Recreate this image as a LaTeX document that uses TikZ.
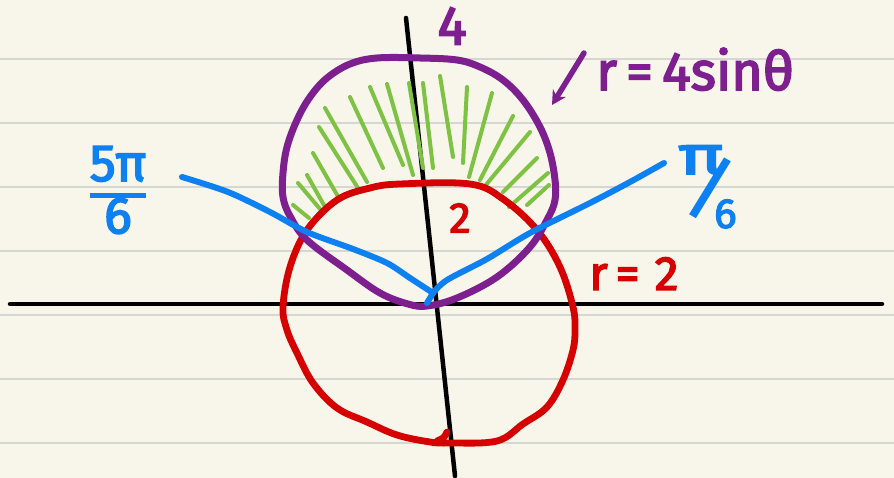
\documentclass[tikz,border=0pt]{standalone}
\usepackage{graphicx}
\usepackage{fontspec}
\setmainfont{Fira Sans}[FakeBold=3]
\usetikzlibrary{arrows.meta}
\definecolor{paper}{HTML}{F8F5EA}
\definecolor{ruled}{HTML}{D6D6D4}
\definecolor{cpurple}{HTML}{7D1F8F}
\definecolor{cred}{HTML}{D60000}
\definecolor{cblue}{HTML}{0D80F2}
\definecolor{cgreen}{HTML}{7DC242}
\begin{document}
\begin{tikzpicture}[x=1pt,y=-1pt,
  ruleline/.style={ruled,line width=2pt},
  axisline/.style={black,line width=4.5pt,line cap=round},
  purplecurve/.style={cpurple,line width=7pt,line cap=round,line join=round},
  redcurve/.style={cred,line width=6.8pt,line cap=round,line join=round},
  bluecurve/.style={cblue,line width=6pt,line cap=round,line join=round},
  hatch/.style={cgreen,line width=4pt,line cap=round},
  purplearrow/.style={cpurple,line width=5.5pt,line cap=round,-{Stealth[length=14pt,width=15pt]}},
  lbl/.style={inner sep=0pt}]
\fill[paper] (0,0) rectangle (894,478);
\useasboundingbox (0,0) rectangle (894,478);
\foreach \yy in {59,123,187,251,315,379,443} \draw[ruleline] (0,\yy) -- (894,\yy);
% axes
\coordinate (xl) at (10,304);
\coordinate (xr) at (882,304);
\coordinate (yt) at (406,18);
\coordinate (yb) at (455,476);
\draw[axisline] (xl) -- (xr);
\draw[axisline] (yt) -- (yb);
% green hatching
\foreach \ax/\ay/\bx/\by in {
  293/205/309/218, 298/183/320/209, 307/175/325/207, 313/153/340/200,
  319/127/358/188, 325/108/367/182, 350/97/383/168, 370/87/403/165,
  387/84/413/175, 409/83/423/168, 423/83/433/168, 440/76/453/157,
  467/87/463/163, 492/93/469/177, 513/116/480/180, 530/132/485/186,
  537/158/503/192, 548/173/509/207, 549/185/527/205}
  \draw[hatch] (\ax,\ay) -- (\bx,\by);
% red circle r = 2
\draw[redcurve] plot[smooth cycle, tension=0.6] coordinates {
  (370,188) (400,184) (470,184) (503,199) (537,230) (560,267) (573,307)
  (575,330) (573,350) (563,380) (547,407) (523,424) (497,441) (450,443)
  (430,442) (397,435) (367,422) (337,408) (313,383) (297,353) (287,330)
  (283,307) (290,267) (307,230) (337,200)};
\draw[redcurve] (447,432) .. controls (444,438) .. (437,441);
% purple circle r = 4 sin theta
\draw[purplecurve] plot[smooth cycle, tension=0.6] coordinates {
  (283,197) (283,173) (287,147) (297,120) (310,97) (327,78) (350,64)
  (377,58) (420,58) (457,60) (480,67) (503,80) (523,100) (540,127)
  (550,153) (555,180) (555,200) (548,218) (530,247) (497,277) (457,298)
  (427,306) (408,304) (380,293) (347,270) (307,240) (290,216)};
% blue rays
\draw[bluecurve] plot[smooth, tension=0.5] coordinates {
  (182,177) (228,192) (270,212) (307,232) (353,249) (387,263) (410,278) (433,293)};
\draw[bluecurve] plot[smooth, tension=0.5] coordinates {
  (433,293) (447,280) (487,259) (530,233) (590,203) (630,182) (664,163)};
\draw[bluecurve] (433,293) -- (427,303);
% arrow to the purple curve
\coordinate (arrtail) at (584,53);
\coordinate (arrtip) at (552,105);
\draw[purplearrow] (arrtail) -- (arrtip);
% labels
\node[lbl,text=cpurple,font=\fontsize{55}{55}\selectfont] (lfour) at (452,26) {4};
\node[lbl,text=cpurple,font=\fontsize{54}{54}\selectfont,anchor=base west] (lpurple) at (596,90) {r\,=\,4sinθ};
\node[lbl,text=cred,font=\fontsize{43}{43}\selectfont] (ltwo) at (460,218) {2};
\node[lbl,text=cred,font=\fontsize{48}{48}\selectfont,anchor=base west] (lred) at (589,290) {r\hspace{8pt}=\hspace{15pt}2};
\node[lbl,text=cblue,font=\fontsize{52}{52}\selectfont] (lfivepi) at (118,196)
  {\setlength\arrayrulewidth{4.5pt}\renewcommand\arraystretch{0.8}\begin{tabular}{@{}c@{}}5π\\\hline 6\end{tabular}};
\node[lbl,text=cblue,font=\fontsize{42}{42}\selectfont,anchor=base west] (lpi) at (678,228)
  {\makebox[0pt][l]{\raisebox{54pt}{\scalebox{1.4}[1]{\fontsize{54}{54}\selectfont π}}}%
   \makebox[0pt][l]{\hspace{5pt}\raisebox{22pt}{\rotatebox{-17}{\fontsize{70}{70}\selectfont/}}}%
   \hspace{36pt}6};
\end{tikzpicture}
\end{document}
